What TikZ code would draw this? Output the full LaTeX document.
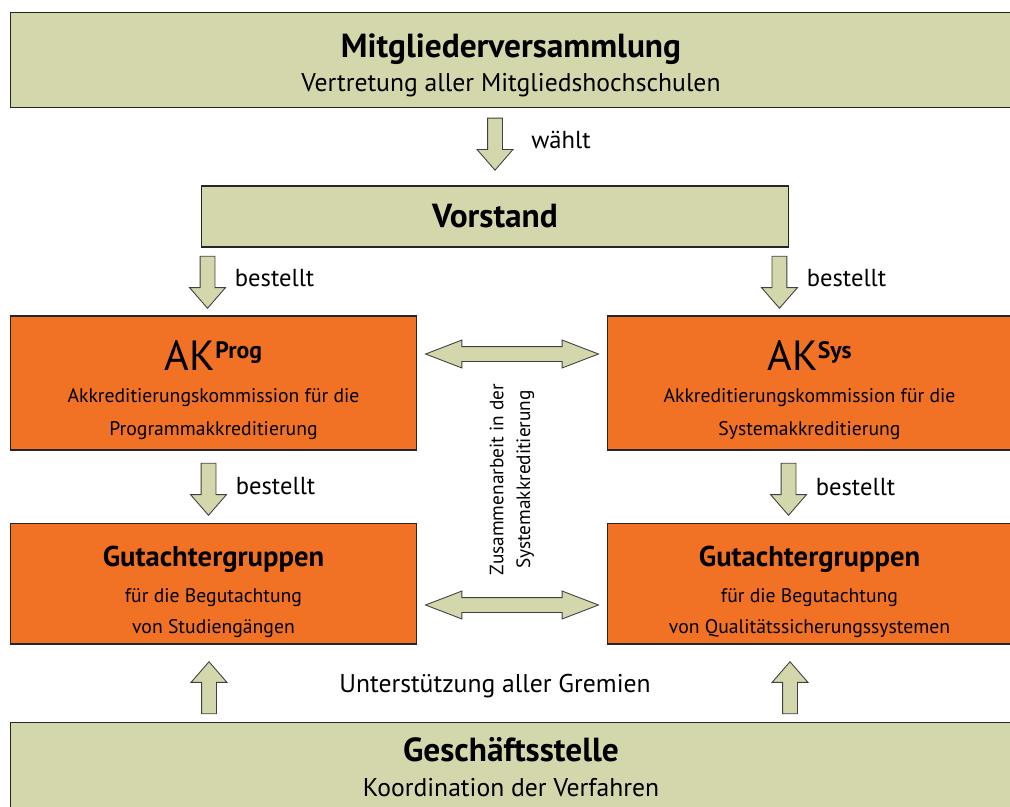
\documentclass[tikz,border=0pt]{standalone}
\usepackage{fontspec}
\setmainfont{PT Sans}
\usepackage{tikz}
\usetikzlibrary{positioning, calc, shapes.arrows}
\definecolor{gremgreen}{RGB}{212,215,172}
\definecolor{gremorange}{RGB}{241,114,37}
% boxes run past the right page edge, text stays centred on the visible part
\newcommand{\cutpad}{\hbox to 0.4cm{}}

\begin{document}
\begin{tikzpicture}[x=0.02cm, y=-0.02cm,
    greenbox/.style={draw=black!85, fill=gremgreen, line width=0.6pt, inner sep=0pt, align=center},
    orangebox/.style={draw=black!85, fill=gremorange, line width=0.6pt, inner sep=0pt, align=center},
    downarr/.style={single arrow, draw=black!75, fill=gremgreen, line width=0.5pt, inner sep=0.14cm,
      minimum height=1.04cm, minimum width=0pt, single arrow head extend=0.21cm,
      single arrow tip angle=82, shape border rotate=270},
    uparr/.style={downarr, shape border rotate=90},
    botharr/.style={double arrow, draw=black!75, fill=gremgreen, line width=0.5pt, inner sep=0.14cm,
      minimum height=3.46cm, minimum width=0pt, double arrow head extend=0.13cm,
      double arrow tip angle=42},
    lbl/.style={inner sep=0pt, font=\fontsize{14}{16}\selectfont}]
  \useasboundingbox (0,0) rectangle (1010,806);

  % Gremien
  \node[greenbox, minimum width=20.44cm, minimum height=1.91cm, font=\fontsize{14.6}{19.5}\selectfont] (mv) at (521,60)
    {\rule{0pt}{20pt}{\fontsize{19}{19}\selectfont\bfseries Mitgliederversammlung}\cutpad\\Vertretung aller Mitgliedshochschulen\cutpad};
  \node[greenbox, minimum width=11.76cm, minimum height=1.22cm, font=\fontsize{19}{22}\selectfont\bfseries] (vs) at (495,216.5) {Vorstand};
  \node[orangebox, minimum width=8.14cm, minimum height=2.68cm, font=\fontsize{11.2}{18.5}\selectfont] (akp) at (213.5,383)
    {\rule{0pt}{25pt}{\fontsize{24}{24}\selectfont AK\raisebox{7pt}{\fontsize{13.5}{14}\selectfont\bfseries Prog}}\\Akkreditierungskommission für die\\Programmakkreditierung};
  \node[orangebox, minimum width=8.5cm, minimum height=2.68cm, font=\fontsize{11.2}{18.5}\selectfont] (aks) at (819.5,383)
    {\rule{0pt}{25pt}{\fontsize{24}{24}\selectfont AK\raisebox{7pt}{\fontsize{13.5}{14}\selectfont\bfseries Sys}}\cutpad\\Akkreditierungskommission für die\cutpad\\Systemakkreditierung\cutpad};
  \node[orangebox, minimum width=8.14cm, minimum height=2.42cm, font=\fontsize{11.2}{17.5}\selectfont] (gp) at (213.5,583.5)
    {\rule{0pt}{21pt}{\fontsize{16.3}{16}\selectfont\bfseries Gutachtergruppen}\\[3pt]für die Begutachtung\\von Studiengängen};
  \node[orangebox, minimum width=8.5cm, minimum height=2.42cm, font=\fontsize{11.2}{17.5}\selectfont] (gsy) at (819.5,583.5)
    {\rule{0pt}{21pt}{\fontsize{16.3}{16}\selectfont\bfseries Gutachtergruppen}\cutpad\\[3pt]für die Begutachtung\cutpad\\von Qualitätssicherungssystemen\cutpad};
  \node[greenbox, minimum width=20.44cm, minimum height=1.8cm, font=\fontsize{14.6}{19.5}\selectfont] (gs) at (521,767)
    {{\fontsize{19}{19}\selectfont\bfseries Geschäftsstelle}\cutpad\\Koordination der Verfahren\cutpad};

  % Pfeile
  \node[downarr, yshift=0.14cm] (w1) at ($(mv.south -| vs.north)!0.5!(vs.north)$) {};
  \node[downarr, xshift=0.14cm, yshift=0.07cm] (b1) at ($(vs.south west)!0.5!(vs.south west |- akp.north)$) {};
  \node[downarr, xshift=-0.2cm, yshift=0.07cm] (b2) at ($(vs.south east)!0.5!(vs.south east |- aks.north)$) {};
  \node[downarr, xshift=-0.1cm, yshift=0.03cm] (b3) at ($(akp.south)!0.5!(gp.north)$) {};
  \node[downarr, xshift=-0.62cm, yshift=0.03cm] (b4) at ($(aks.south)!0.5!(gsy.north)$) {};
  \node[uparr, xshift=-0.09cm, yshift=-0.18cm] (u1) at ($(gp.south)!0.5!(gp.south |- gs.north)$) {};
  \node[uparr, xshift=-0.59cm, yshift=-0.18cm] (u2) at ($(gsy.south)!0.5!(gsy.south |- gs.north)$) {};
  \node[botharr, yshift=0.58cm] (d1) at ($(akp.east)!0.5!(aks.west)$) {};
  \node[botharr, yshift=-0.43cm] (d2) at ($(gp.east)!0.5!(gsy.west)$) {};

  % Beschriftungen
  \node[lbl, right=0.72cm of w1.center, yshift=-0.01cm] (wl) {wählt};
  \node[lbl, right=0.54cm of b1.center, yshift=-0.01cm] (bl1) {bestellt};
  \node[lbl, right=0.54cm of b2.center, yshift=-0.01cm] (bl2) {bestellt};
  \node[lbl, right=0.54cm of b3.center, yshift=-0.02cm] (bl3) {bestellt};
  \node[lbl, right=0.54cm of b4.center, yshift=-0.04cm] (bl4) {bestellt};
  \node[lbl, font=\fontsize{14.6}{16}\selectfont, xshift=-0.09cm, yshift=0.12cm] (ug) at ($(u1)!0.5!(u2)$) {Unterstützung aller Gremien};
  \node[rotate=90, align=center, inner sep=0pt, font=\fontsize{11}{15.3}\selectfont] (zus) at ($(d1)!0.5!(d2)$)
    {Zusammenarbeit in der\\Systemakkreditierung};
\end{tikzpicture}
\end{document}
